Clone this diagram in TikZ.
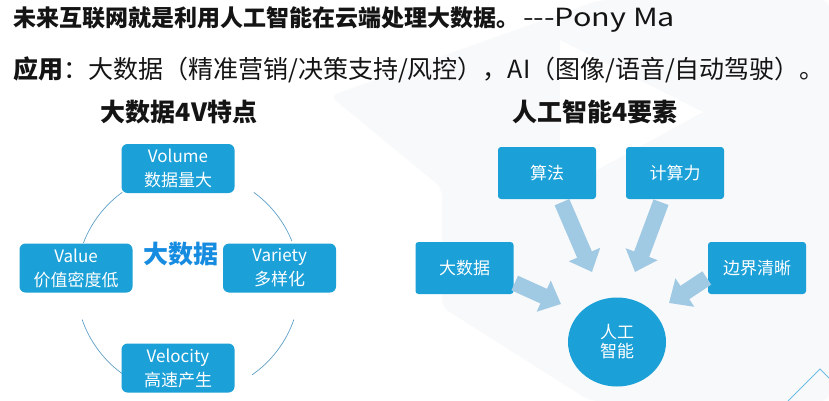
\documentclass[tikz,border=0pt]{standalone}
\usepackage{fontspec}
\newfontfamily\yh{Noto Sans CJK SC}
\usetikzlibrary{arrows.meta,calc,shapes.geometric}
\definecolor{boxblue}{RGB}{27,160,215}
\definecolor{arrowblue}{RGB}{160,201,228}
\definecolor{ringblue}{RGB}{95,160,200}
\definecolor{keyblue}{RGB}{22,140,225}
\definecolor{bgshade}{RGB}{248,249,250}
\definecolor{accentline}{RGB}{110,190,230}
\definecolor{ink}{RGB}{20,20,20}

\begin{document}
\begin{tikzpicture}[x=1pt,y=-1pt,font=\yh,
  vbox/.style={fill=boxblue, rounded corners=6pt, text=white,
    minimum width=113pt, minimum height=49pt, inner sep=0pt, align=center,
    font=\yh\fontsize{17}{24}\selectfont},
  abox/.style={fill=boxblue, rounded corners=3pt, text=white,
    minimum width=98pt, minimum height=52pt, inner sep=0pt,
    font=\yh\fontsize{17}{20}\selectfont},
  headline/.style={anchor=west, inner sep=0pt, text=ink},
  sectitle/.style={inner sep=0pt, text=ink, font=\yh\bfseries\fontsize{25}{28}\selectfont},
  flow/.style={draw=arrowblue, line width=16pt, -{Triangle[width=33pt,length=19pt]}},
  ring/.style={draw=ringblue, line width=0.7pt}
]
\useasboundingbox (0,0) rectangle (829,401);
\fill[white] (0,0) rectangle (829,401);

% faint backdrop facets
\fill[bgshade, rounded corners=8pt] (330,96) -- (600,0) -- (829,0) -- (829,401)
  -- (590,401) -- (442,307) -- (442,188) -- cycle;
\fill[white] (560,40) -- (703,112) -- (560,190) -- cycle;

% heading lines
\node[headline, font=\yh\fontsize{23}{28}\selectfont] (motto) at (13,20)
  {\textbf{未来互联网就是利用人工智能在云端处理大数据。}\,\scalebox{1.22}[1]{\fontsize{25}{28}\selectfont ---Pony Ma}};
\node[headline, font=\yh\fontsize{25}{30}\selectfont] (apps) at (13,70)
  {\textbf{应用}：大数据（精准营销/决策支持/风控），AI（图像/语音/自动驾驶）。};

% section titles
\node[sectitle] (t4v) at (179,112) {大数据4V特点};
\node[sectitle] (tai) at (595,112) {人工智能4要素};

% 4V ring
\coordinate (hub) at (188,283);
\draw[ring] ($(hub)+(-126:112)$) arc[start angle=-126, end angle=-159, radius=112];
\draw[ring] ($(hub)+(-54:112)$) arc[start angle=-54, end angle=-22, radius=112];
\draw[ring] ($(hub)+(19:112)$) arc[start angle=19, end angle=55, radius=112];
\draw[ring] ($(hub)+(126:112)$) arc[start angle=126, end angle=161, radius=112];

\node[vbox] (volume) at (178,168.5) {Volume\\数据量大};
\node[vbox] (value) at (76,268) {Value\\价值密度低};
\node[vbox] (variety) at (279.5,268) {Variety\\多样化};
\node[vbox] (velocity) at (178,368) {Velocity\\高速产生};
\node[text=keyblue, inner sep=0pt, font=\yh\bfseries\fontsize{25}{28}\selectfont]
  (core) at (181,254) {大数据};

% AI elements
\node[abox] (algo) at (547,173) {算法};
\node[abox] (compute) at (675,173) {计算力};
\node[abox] (bigdata) at (464.5,268) {大数据};
\node[abox] (clarity) at (757,268) {边界清晰};
\node[ellipse, fill=boxblue, text=white, minimum width=98pt, minimum height=89pt,
  inner sep=0pt, align=center, font=\yh\fontsize{17}{19}\selectfont]
  (ai) at (617,342) {人工\\智能};

\coordinate (tipA) at (592,272);
\coordinate (tipB) at (635,272);
\coordinate (tipC) at (561,304);
\coordinate (tipD) at (669,303);
\draw[flow] ($(algo.south)+(15,3)$) -- (tipA);
\draw[flow] ($(compute.south)+(-14,3)$) -- (tipB);
\draw[flow] ($(bigdata.east)+(1,15)$) -- (tipC);
\draw[flow] ($(clarity.west)+(-1,10)$) -- (tipD);

% corner accent
\draw[accentline, line width=0.8pt] (788,401) -- (820,369) -- (829,378);
\end{tikzpicture}
\end{document}
